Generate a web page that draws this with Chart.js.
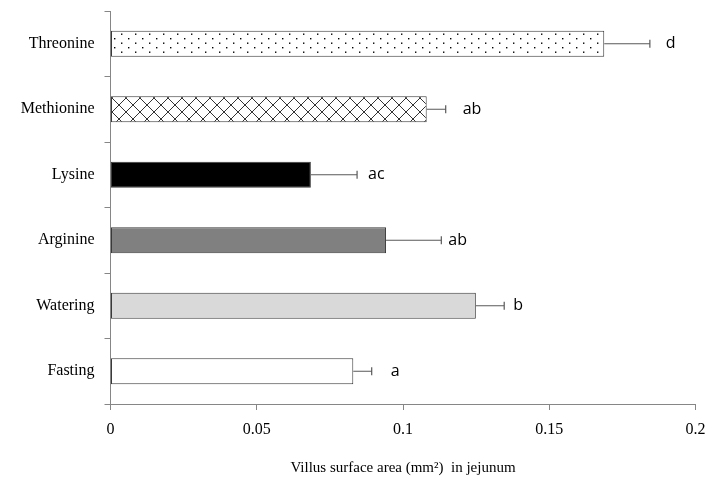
<!DOCTYPE html>
<html>
<head>
<meta charset="utf-8">
<script src="https://cdn.jsdelivr.net/npm/chart.js@4/dist/chart.umd.min.js"></script>
<style>
  html, body { margin: 0; padding: 0; background: #fff; }
  #wrap { width: 708px; height: 481px; position: relative; }
</style>
</head>
<body>
<div id="wrap"><canvas id="myChart"></canvas></div>
<script>
// data (top to bottom)
const treatments = ['Threonine', 'Methionine', 'Lysine', 'Arginine', 'Watering', 'Fasting'];
const villusArea = [0.1688, 0.1081, 0.0685, 0.0942, 0.1249, 0.0830];
const stdError = [0.0156, 0.0065, 0.0158, 0.0189, 0.0097, 0.0063];
const sigLetters = ['d', 'ab', 'ac', 'ab', 'b', 'a'];
const xTicks = [0, 0.05, 0.1, 0.15, 0.2];

function makePattern(kind) {
    const c = document.createElement('canvas');
    const g = c.getContext('2d');
    if (kind === 'dots') {
        c.width = 14; c.height = 9;
        g.fillStyle = '#fff';
        g.fillRect(0, 0, 14, 9);
        g.fillStyle = '#000';
        g.fillRect(2, 2, 1.4, 1.4);
        g.fillRect(9, 6.5, 1.4, 1.4);
    } else {
        c.width = 14; c.height = 14;
        g.fillStyle = '#fff';
        g.fillRect(0, 0, 14, 14);
        g.strokeStyle = '#333';
        g.lineWidth = 1;
        g.beginPath();
        g.moveTo(0, 0); g.lineTo(14, 14);
        g.moveTo(14, 0); g.lineTo(0, 14);
        g.stroke();
    }
    return g.createPattern(c, 'repeat');
}

const fills = [
    makePattern('dots'),
    makePattern('cross'),
    '#000000',
    '#808080',
    '#d9d9d9',
    '#ffffff'
];

// error bars + significance letters
const errorBars = {
    id: 'errorBars',
    afterDatasetsDraw(chart, args, opts) {
        const { ctx, scales: { x } } = chart;
        const meta = chart.getDatasetMeta(0);
        ctx.save();
        ctx.strokeStyle = '#595959';
        ctx.lineWidth = 1.2;
        meta.data.forEach((bar, i) => {
            const x0 = x.getPixelForValue(villusArea[i]);
            const x1 = x.getPixelForValue(villusArea[i] + stdError[i]);
            const y = bar.y;
            ctx.beginPath();
            ctx.moveTo(x0, y); ctx.lineTo(x1, y);
            ctx.moveTo(x1, y - 4); ctx.lineTo(x1, y + 4);
            ctx.stroke();
            ctx.fillStyle = '#000';
            ctx.font = '16px "Open Sans", sans-serif';
            ctx.textAlign = 'left';
            ctx.textBaseline = 'middle';
            ctx.fillText(sigLetters[i], x1 + opts.gaps[i], y);
        });
        // panel letter cut off at the top edge
        ctx.font = '16px "Liberation Serif", serif';
        ctx.fillText(')', 14, -8);
        ctx.restore();
    }
};

new Chart('myChart', {
    type: 'bar',
    data: {
        labels: treatments,
        datasets: [{
            data: villusArea,
            backgroundColor: fills,
            borderColor: '#3a3a3a',
            borderWidth: 1,
            borderSkipped: false,
            categoryPercentage: 1,
            barPercentage: 0.4
        }]
    },
    options: {
        indexAxis: 'y',
        responsive: true,
        maintainAspectRatio: false,
        animation: false,
        layout: { padding: { top: 11, right: 12.5, left: 0, bottom: 0 } },
        plugins: {
            legend: { display: false },
            tooltip: { enabled: false },
            errorBars: { gaps: [16, 17, 11, 7, 9, 19] }
        },
        scales: {
            x: {
                min: 0,
                max: 0.2,
                afterBuildTicks: (s) => { s.ticks = xTicks.map(v => ({ value: v })); },
                afterFit: (s) => {
                    s.height = 77;
                    s.paddingLeft = 0;
                    s.paddingRight = 0;
                },
                border: { color: '#868686', width: 1 },
                grid: { drawOnChartArea: false, color: '#868686', tickLength: 6 },
                ticks: {
                    color: '#000',
                    padding: 10,
                    font: { family: '"Liberation Serif", serif', size: 16 },
                    callback: (v) => String(v)
                },
                title: {
                    display: true,
                    text: 'Villus surface area (mm\u00b2)  in jejunum',
                    color: '#000',
                    font: { family: '"Liberation Serif", serif', size: 15 },
                    padding: { top: 12 }
                }
            },
            y: {
                afterFit: (s) => {
                    s.width = 110.5;
                    s.paddingTop = 0;
                    s.paddingBottom = 0;
                },
                border: { color: '#868686', width: 1 },
                grid: { drawOnChartArea: false, color: '#868686', tickLength: 6, offset: true },
                ticks: {
                    color: '#000',
                    padding: 10,
                    font: { family: '"Liberation Serif", serif', size: 16 }
                }
            }
        }
    },
    plugins: [errorBars]
});
</script>
</body>
</html>
